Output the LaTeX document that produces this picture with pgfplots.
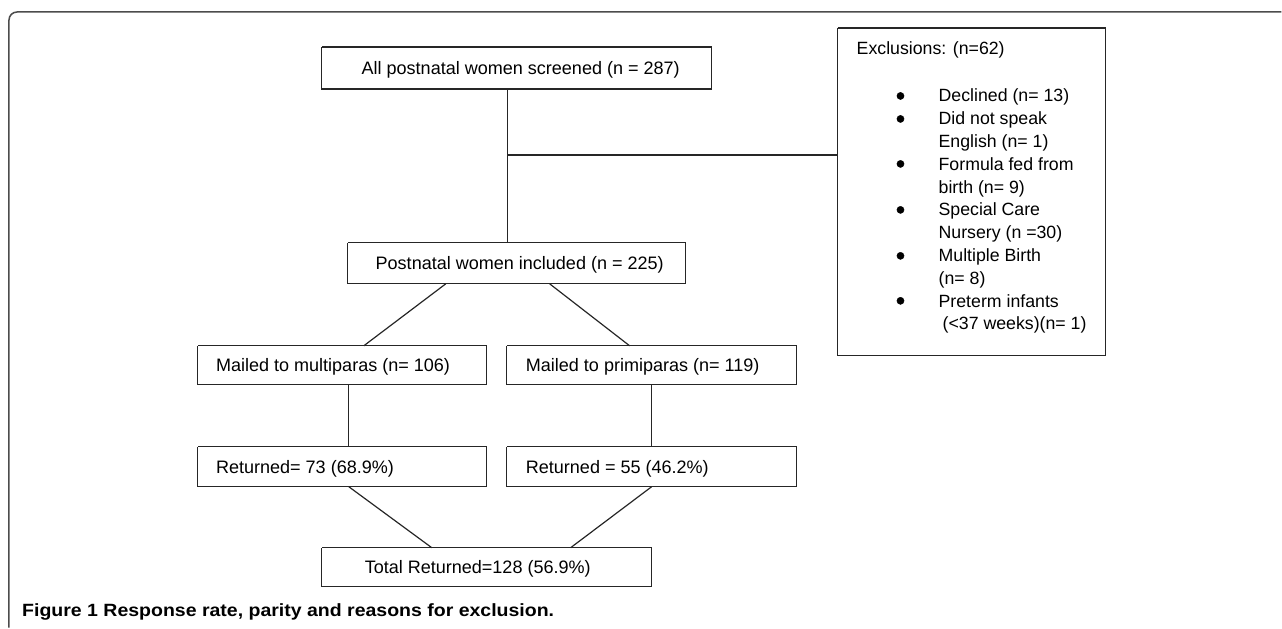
\documentclass[border=0pt]{standalone}
\usepackage{fontspec}
\setmainfont{Liberation Sans}
\newfontfamily\capfont[FakeStretch=1.1]{Liberation Sans}
\usepackage{pgfplots}
\pgfplotsset{compat=1.18}

\tikzset{
  fl/.style={line width=1.2bp, color=black!85, solid, line join=miter, mark=none},
  box/.style={font=\fontsize{18.1}{21}\selectfont, inner sep=0pt, anchor=base},
  boxl/.style={box, anchor=base west},
  ex/.style={font=\fontsize{17.8}{21}\selectfont, inner sep=0pt, anchor=base west},
}

\begin{document}
\begin{tikzpicture}
\begin{axis}[
  scale only axis, width=1282bp, height=628bp,
  xmin=0, xmax=1282, ymin=0, ymax=628, y dir=reverse,
  hide axis, clip=false,
]
% page extent
\addplot[draw=none, mark=none] coordinates {(0,0) (1282,628)};
% figure frame
\addplot[fl, line width=1.5bp, color=black!70, rounded corners=8bp] coordinates {(9,628) (9,12) (1282,12)};

% boxes
\addplot[fl] coordinates {(322,47) (712,47) (712,89) (322,89) (322,47)};
\addplot[fl] coordinates {(348,243) (686,243) (686,284) (348,284) (348,243)};
\addplot[fl] coordinates {(198,346) (487,346) (487,385) (198,385) (198,346)};
\addplot[fl] coordinates {(507,346) (797,346) (797,385) (507,385) (507,346)};
\addplot[fl] coordinates {(198,447) (487,447) (487,487) (198,487) (198,447)};
\addplot[fl] coordinates {(507,447) (797,447) (797,487) (507,487) (507,447)};
\addplot[fl] coordinates {(322,548) (652,548) (652,587) (322,587) (322,548)};
\addplot[fl] coordinates {(838,28) (1106,28) (1106,356) (838,356) (838,28)};

% connectors
\addplot[fl] coordinates {(508,89) (508,243)};
\addplot[fl] coordinates {(508,155) (838,155)};
\addplot[fl] coordinates {(446,284) (364,346)};
\addplot[fl] coordinates {(550,284) (630,346)};
\addplot[fl] coordinates {(349,385) (349,447)};
\addplot[fl] coordinates {(652,385) (652,447)};
\addplot[fl] coordinates {(349,487) (432,548)};
\addplot[fl] coordinates {(652,487) (571,548)};

% bullets
\addplot[only marks, mark=*, mark size=3.6bp, color=black] coordinates {
  (901,96) (901,119) (901,164) (901,210) (901,256) (901,301)};

% box texts
\node[box] at (axis cs:521,74.5) {All postnatal women screened (n = 287)};
\node[box] at (axis cs:520,270) {Postnatal women included (n = 225)};
\node[boxl] at (axis cs:216,372) {Mailed to multiparas (n= 106)};
\node[boxl] at (axis cs:526,372) {Mailed to primiparas (n= 119)};
\node[boxl] at (axis cs:216,473.5) {Returned= 73 (68.9\%)};
\node[boxl] at (axis cs:526,473.5) {Returned = 55 (46.2\%)};
\node[box] at (axis cs:478,574) {Total Returned=128 (56.9\%)};

% exclusions
\node[ex] at (axis cs:857,55) {Exclusions: (n=62)};
\node[ex] at (axis cs:939,102) {Declined (n= 13)};
\node[ex] at (axis cs:939,124.8) {Did not speak};
\node[ex] at (axis cs:939,147.6) {English (n= 1)};
\node[ex] at (axis cs:939,170.4) {Formula fed from};
\node[ex] at (axis cs:939,193.2) {birth (n= 9)};
\node[ex] at (axis cs:939,216) {Special Care};
\node[ex] at (axis cs:939,238.8) {Nursery (n =30)};
\node[ex] at (axis cs:939,261.6) {Multiple Birth};
\node[ex] at (axis cs:939,284.4) {(n= 8)};
\node[ex] at (axis cs:939,307.2) {Preterm infants};
\node[ex] at (axis cs:943,330) {(<37 weeks)(n= 1)};

% caption
\node[font=\capfont\fontsize{17.8}{20}\selectfont, inner sep=0pt, anchor=base west]
  at (axis cs:22,617) {\textbf{Figure 1} \textbf{Response rate, parity and reasons for exclusion.}};
\end{axis}
\end{tikzpicture}
\end{document}
